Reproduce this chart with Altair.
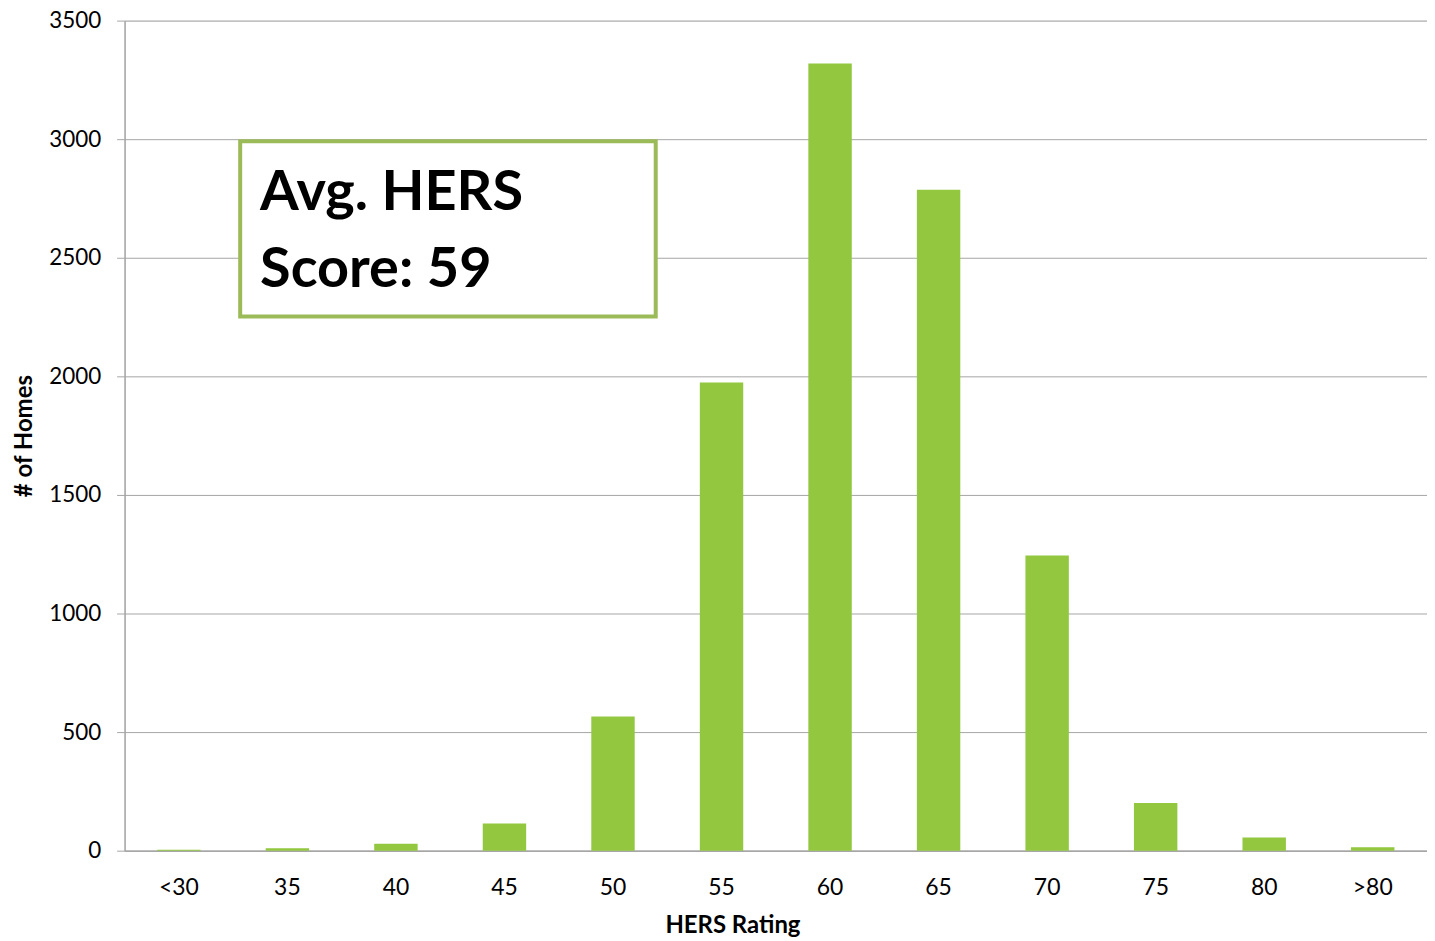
import altair as alt
import pandas as pd

categories = ["<30", "35", "40", "45", "50", "55", "60", "65", "70", "75", "80", ">80"]
homes = [4, 10, 29, 115, 566, 1974, 3319, 2787, 1245, 201, 56, 14]
y_ticks = [0, 500, 1000, 1500, 2000, 2500, 3000, 3500]
annotation_lines = ["Avg. HERS", "Score: 59"]

df = pd.DataFrame({"rating": categories, "homes": homes})

FONT = "Lato"
GRID = "#a6a6a6"
GREEN = "#92c73f"

bars = alt.Chart(df).mark_bar(color=GREEN).encode(
    x=alt.X(
        "rating:N",
        sort=categories,
        title="HERS Rating",
        scale=alt.Scale(paddingInner=0.6, paddingOuter=0.3),
        axis=alt.Axis(
            labelAngle=0,
            labelFontSize=23,
            labelFont=FONT,
            labelColor="#000000",
            labelPadding=26,
            ticks=False,
            domainColor=GRID,
            domainWidth=1.5,
            titleFont=FONT,
            titleFontSize=24,
            titleFontWeight="bold",
            titleColor="#000000",
            titlePadding=14,
            titleX=610,
            titleAnchor="middle",
        ),
    ),
    y=alt.Y(
        "homes:Q",
        title="# of Homes",
        scale=alt.Scale(domain=[0, 3500], nice=False),
        axis=alt.Axis(
            values=y_ticks,
            format="d",
            labelFontSize=22.5,
            labelFont=FONT,
            labelColor="#000000",
            labelPadding=16,
            tickSize=8,
            tickColor=GRID,
            gridColor=GRID,
            gridWidth=1,
            domainColor=GRID,
            domainWidth=1.5,
            titleFont=FONT,
            titleFontSize=24,
            titleFontWeight="bold",
            titleColor="#000000",
            titlePadding=12,
        ),
    ),
)

box = alt.Chart(pd.DataFrame({"a": [0]})).mark_rect(
    fill="white", stroke="#9bbb59", strokeWidth=4
).encode(
    x=alt.value(116), x2=alt.value(533), y=alt.value(121), y2=alt.value(297)
)

line1 = alt.Chart(pd.DataFrame({"t": [annotation_lines[0]]})).mark_text(
    font=FONT, fontSize=56, fontWeight="bold", color="#000000",
    align="left", baseline="alphabetic"
).encode(x=alt.value(136), y=alt.value(190), text="t:N")
line2 = alt.Chart(pd.DataFrame({"t": [annotation_lines[1]]})).mark_text(
    font=FONT, fontSize=56, fontWeight="bold", color="#000000",
    align="left", baseline="alphabetic"
).encode(x=alt.value(136), y=alt.value(267), text="t:N")

chart = alt.layer(bars, box, line1, line2).properties(
    width=1307,
    height=833,
    autosize=alt.AutoSizeParams(type="none"),
    padding={"left": 117, "top": 11, "right": 0, "bottom": 87},
).configure_view(stroke=None).configure(background="white")

chart.save("out.html", embed_options={"renderer": "svg", "actions": False})
